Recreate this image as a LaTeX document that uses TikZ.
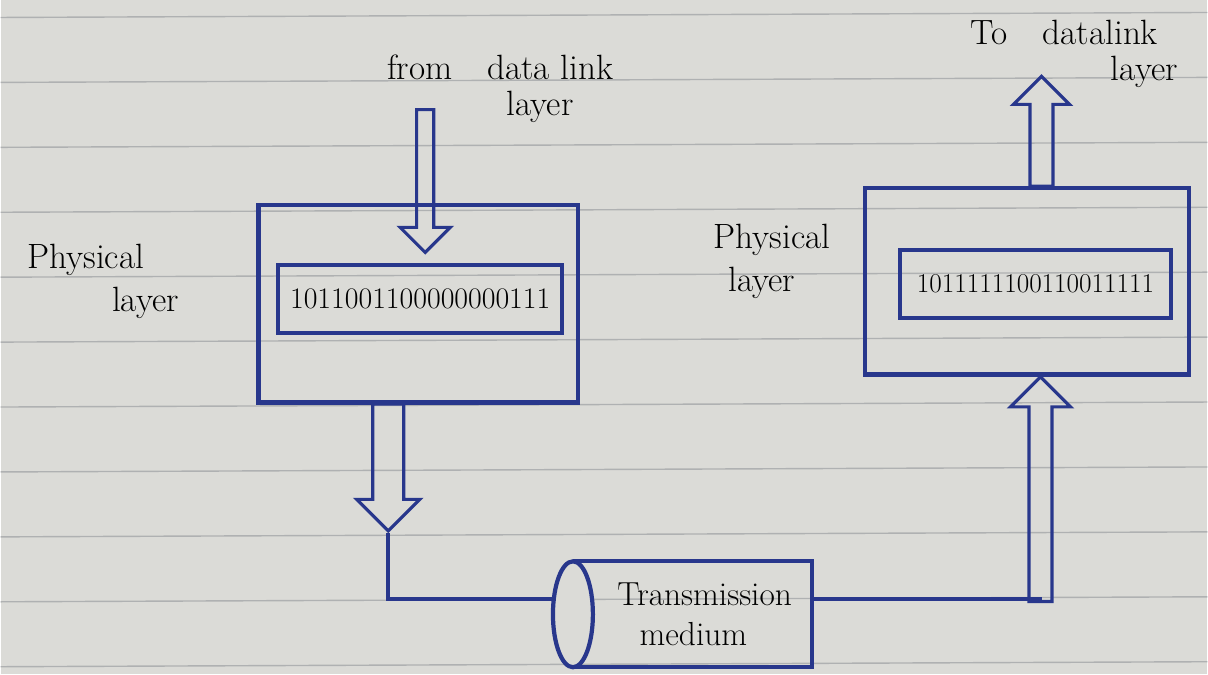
\documentclass[tikz,border=0pt]{standalone}
\usepackage{tikz}
\usetikzlibrary{positioning,shapes.arrows,calc}
\definecolor{ink}{RGB}{40,55,140}
\definecolor{paper}{RGB}{219,219,215}
\definecolor{ruling}{RGB}{175,177,178}

\begin{document}
\begin{tikzpicture}[x=1cm,y=1cm,
  layerbox/.style={draw=ink, line width=2.4pt, minimum width=#1},
  bitbox/.style={draw=ink, line width=2.4pt, minimum width=#1, minimum height=1.36cm,
    font=\fontsize{17}{20}\selectfont},
  blockarrow/.style={single arrow, draw=ink, line width=1.8pt, inner sep=#1,
    single arrow head indent=0pt},
  wire/.style={draw=ink, line width=2.2pt},
  hand/.style={font=\fontsize{20}{24}\selectfont, inner sep=1pt}]

% ruled notebook page
\fill[paper] (0,0) rectangle (24.16,13.5);
\foreach \y in {0.15,1.45,2.75,4.05,5.35,6.65,7.95,9.25,10.55,11.85,13.15} {
  \draw[ruling, line width=0.8pt] (0,\y) -- (24.16,\y+0.1);
}

% sender side
\node[layerbox=6.4cm, minimum height=3.96cm] (sendLayer) at (8.36,7.42) {};
\node[bitbox=5.68cm] (sendBits) at (8.4,7.52) {1011001100000000111};
\node[blockarrow=0.14cm, single arrow head extend=0.33cm, shape border rotate=270,
  minimum height=2.86cm, anchor=tip] (inArrow) at (8.5,8.4) {};
\node[blockarrow=0.28cm, single arrow head extend=0.32cm, shape border rotate=270,
  minimum height=2.54cm, anchor=tail] (downArrow) at (7.76,5.44) {};

% receiver side
\node[layerbox=6.5cm, minimum height=3.74cm] (recvLayer) at (20.55,7.87) {};
\node[bitbox=5.44cm, font=\fontsize{15.5}{19}\selectfont] (recvBits) at (20.72,7.82)
  {1011111100110011111};
\node[blockarrow=0.2cm, single arrow head extend=0.33cm, shape border rotate=90,
  minimum height=2.2cm, anchor=tail] (outArrow) at (20.84,9.74) {};
\node[blockarrow=0.2cm, single arrow head extend=0.37cm, shape border rotate=90,
  minimum height=4.5cm, anchor=tip] (upArrow) at (20.82,6.0) {};

% transmission medium
\node[draw=ink, line width=2.4pt, minimum width=4.74cm, minimum height=2.12cm,
  align=center, font=\fontsize{19}{23}\selectfont] (medium) at (13.87,1.2)
  {\hspace*{0.45cm}Transmission\\medium};
\draw[ink, line width=2.4pt, fill=paper] (medium.west) ellipse (0.4 and 1.06);
\coordinate (mediumIn) at ($(medium.west)+(-0.4,0.3)$);
\coordinate (mediumOut) at ($(medium.east)+(0,0.3)$);

% links through the medium
\draw[wire] (downArrow.tip) |- (mediumIn);
\draw[wire] (mediumOut) -| (upArrow.tail);

% handwritten labels
\node[hand] (fromLbl) at (10.0,12.15) {from\quad data link};
\node[hand, below=0.15cm of fromLbl, xshift=0.8cm] (fromLayer) {layer};
\node[hand] (toLbl) at (21.3,12.85) {To\quad datalink};
\node[hand, below=0.15cm of toLbl, xshift=1.6cm] (toLayer) {layer};
\node[hand] (physL) at (1.7,8.3) {Physical};
\node[hand, below=0.15cm of physL, xshift=1.2cm] (physLayerL) {layer};
\node[hand] (physR) at (15.44,8.7) {Physical};
\node[hand, below=0.15cm of physR, xshift=-0.2cm] (physLayerR) {layer};

\end{tikzpicture}
\end{document}
